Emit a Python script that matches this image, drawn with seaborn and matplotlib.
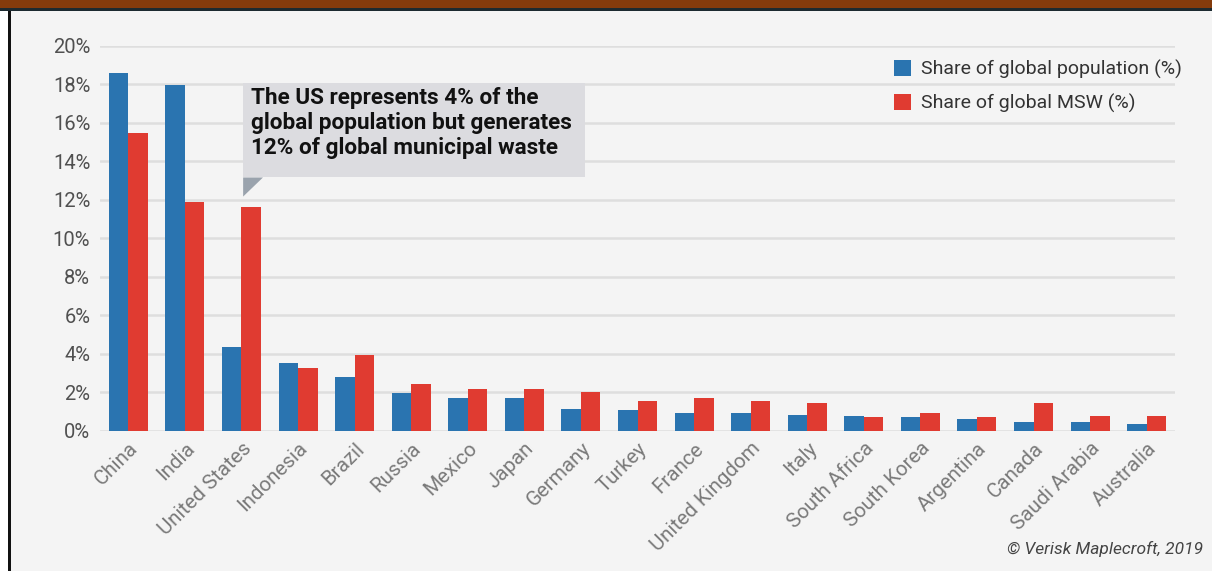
import pandas as pd
import matplotlib.pyplot as plt
import seaborn as sns
from matplotlib.patches import Rectangle, Polygon

countries = ['China', 'India', 'United States', 'Indonesia', 'Brazil', 'Russia', 'Mexico',
             'Japan', 'Germany', 'Turkey', 'France', 'United Kingdom', 'Italy', 'South Africa',
             'South Korea', 'Argentina', 'Canada', 'Saudi Arabia', 'Australia']
pop_share = [18.6, 17.96, 4.35, 3.51, 2.78, 1.93, 1.69, 1.69, 1.10, 1.04, 0.89, 0.89, 0.82,
             0.77, 0.70, 0.59, 0.45, 0.45, 0.35]
msw_share = [15.48, 11.88, 11.6, 3.25, 3.90, 2.42, 2.16, 2.16, 1.98, 1.53, 1.71, 1.53, 1.44,
             0.70, 0.89, 0.70, 1.43, 0.77, 0.77]
series = ['Share of global population (%)', 'Share of global MSW (%)']
yticks = [0, 2, 4, 6, 8, 10, 12, 14, 16, 18, 20]

df = pd.DataFrame({
    'Country': countries * 2,
    'Series': [series[0]] * len(countries) + [series[1]] * len(countries),
    'Value': pop_share + msw_share,
})

bg = '#f4f4f4'
sns.set_style('white', {'axes.facecolor': bg, 'figure.facecolor': bg})
plt.rcParams['font.family'] = ['Roboto', 'DejaVu Sans']

W, H = 1212, 571
fig = plt.figure(figsize=(W / 100, H / 100), dpi=100)
ax = fig.add_axes([100 / W, 140.5 / H, 1075 / W, 384.8 / H])

sns.barplot(data=df, x='Country', y='Value', hue='Series', order=countries,
            palette=['#2a74b0', '#e03b31'], width=0.69, saturation=1, ax=ax,
            edgecolor='none', linewidth=0)

ax.set_ylim(0, 20)
ax.set_xlim(-0.5, len(countries) - 0.5)
ax.set_yticks(yticks)
ax.set_yticklabels([f'{v}%' for v in yticks], fontsize=14.5, color='#505050')
ax.set_xticks(range(len(countries)))
ax.set_xticklabels(countries, rotation=45, ha='right', rotation_mode='anchor',
                   fontsize=14.8, color='#7a7a7a')
ax.tick_params(axis='both', length=0)
ax.tick_params(axis='y', pad=7)
ax.tick_params(axis='x', pad=6)
ax.set_xlabel('')
ax.set_ylabel('')
ax.grid(axis='y', color='#dedede', linewidth=1.8)
ax.set_axisbelow(True)
sns.despine(ax=ax, left=True, bottom=True)

handles, labels = ax.get_legend_handles_labels()
ax.legend(handles, labels, loc='upper left', bbox_to_anchor=(876 / W, 1 - 42 / H),
          bbox_transform=fig.transFigure, frameon=False, fontsize=14,
          handlelength=0.9, handleheight=0.9, handletextpad=0.5, labelspacing=0.78,
          labelcolor='#333333')

# callout box
ax.add_patch(Rectangle((2.03, 13.15), 6.04, 4.9, facecolor='#dcdce0', edgecolor='none', zorder=4))
ax.add_patch(Polygon([(2.03, 13.15), (2.38, 13.15), (2.03, 12.16)], closed=True,
                     facecolor='#9aa3ad', edgecolor='none', zorder=4))
ax.text(2.17, 17.85, 'The US represents 4% of the\nglobal population but generates\n12% of global municipal waste',
        fontsize=16.2, fontweight='bold', color='#111111', va='top', ha='left',
        linespacing=1.17, zorder=5)

# frame decorations
fig.add_artist(Rectangle((0, 0), 8 / W, 1, transform=fig.transFigure, facecolor='white',
                         edgecolor='none'))
fig.add_artist(Rectangle((8 / W, 0), 2.5 / W, 1, transform=fig.transFigure, facecolor='#111111',
                         edgecolor='none'))
fig.add_artist(Rectangle((0, 1 - 11 / H), 1, 4 / H, transform=fig.transFigure,
                         facecolor='#1c2a30', edgecolor='none'))
fig.add_artist(Rectangle((0, 1 - 7.5 / H), 1, 7.5 / H, transform=fig.transFigure,
                         facecolor='#843b0c', edgecolor='none'))

fig.text(1203 / W, 1 - 549 / H, '\u00a9 Verisk Maplecroft, 2019', fontsize=12.5, style='italic',
         color='#444444', ha='right', va='center')

fig.savefig('out.png', dpi=100, facecolor=bg)
